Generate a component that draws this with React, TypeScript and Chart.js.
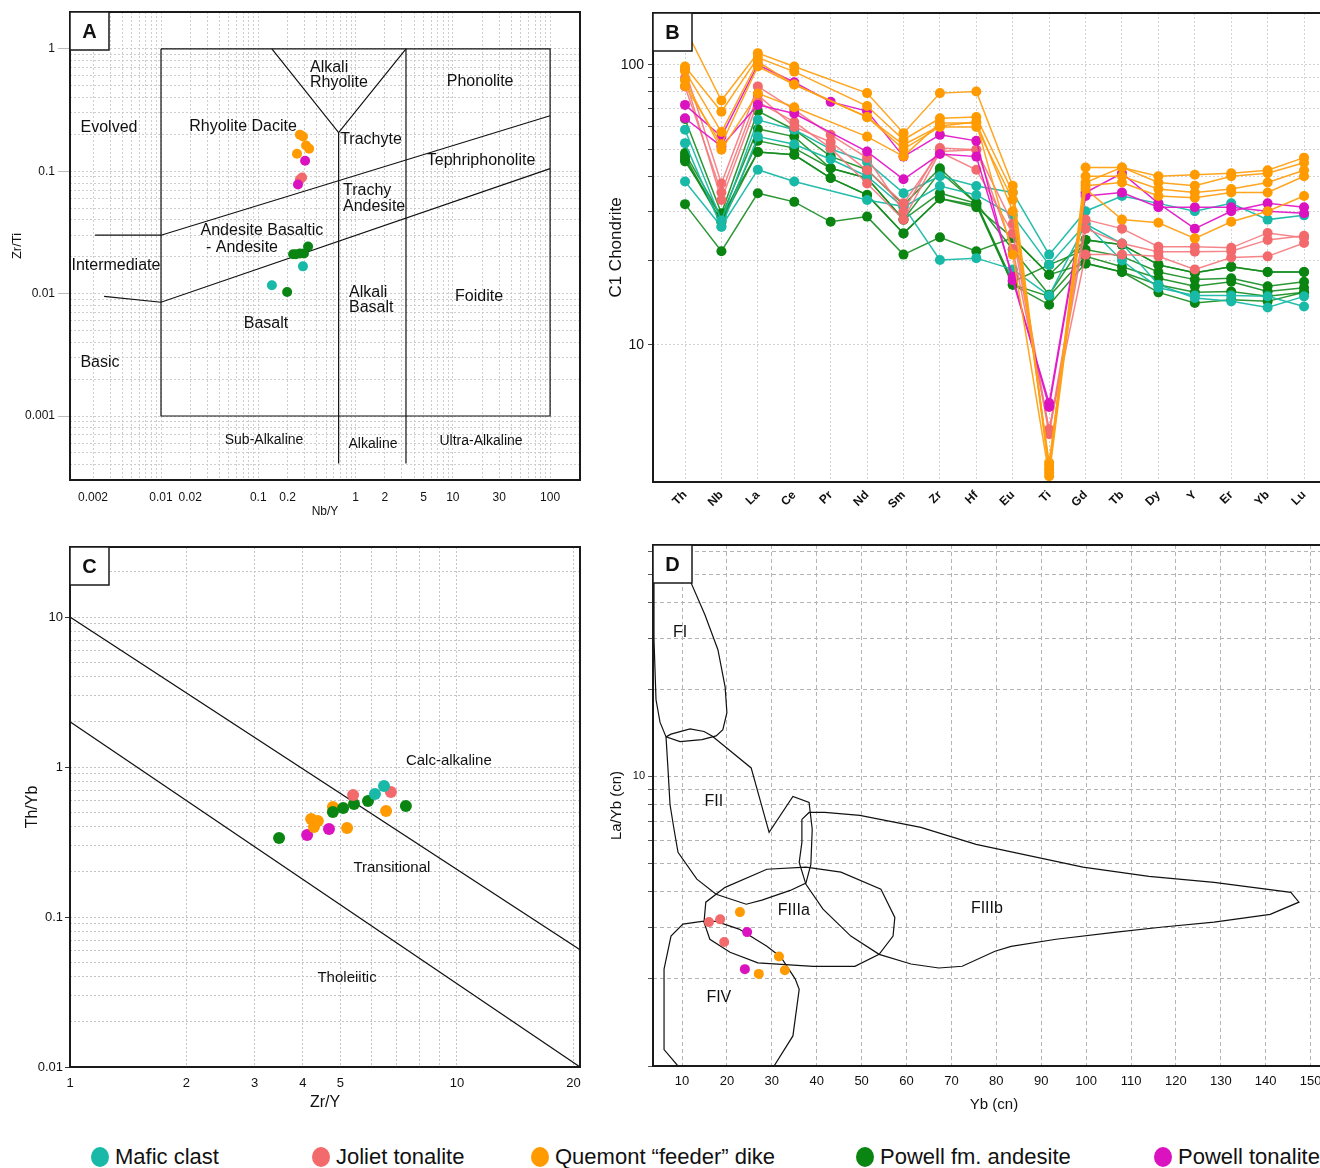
import { useEffect, useRef } from 'react';
import { Chart, registerables } from 'chart.js';
Chart.register(...registerables);

const FONT = '"Liberation Sans", Arial, Helvetica, sans-serif';

const COL_MAFIC = '#18B9A7';
const COL_JOLIET = '#F26A6C';
const COL_QUEMONT = '#FF9A00';
const COL_POWELL_AND = '#0B8512';
const COL_POWELL_TON = '#DB12C0';

// ---------------- Panel A : Zr/Ti vs Nb/Y ----------------
const A_MAFIC = [{ x: 0.288, y: 0.0167 }, { x: 0.138, y: 0.0117 }];
const A_JOLIET = [{ x: 0.282, y: 0.089 }, { x: 0.268, y: 0.0856 }];
const A_QUEMONT = [{ x: 0.288, y: 0.192 }, { x: 0.31, y: 0.162 }, { x: 0.25, y: 0.139 }, { x: 0.333, y: 0.153 }, { x: 0.268, y: 0.199 }];
const A_POWELL_AND = [{ x: 0.325, y: 0.0243 }, { x: 0.268, y: 0.0213 }, { x: 0.228, y: 0.021 }, { x: 0.295, y: 0.0213 }, { x: 0.244, y: 0.021 }, { x: 0.198, y: 0.0103 }];
const A_POWELL_TON = [{ x: 0.303, y: 0.122 }, { x: 0.256, y: 0.078 }];

const A_FIELD_RECT = [{ x: 0.01, y: 1 }, { x: 100, y: 1 }, { x: 100, y: 0.001 }, { x: 0.01, y: 0.001 }, { x: 0.01, y: 1 }];
const A_ALKALI_RHYOLITE_V = [{ x: 0.138, y: 1 }, { x: 0.67, y: 0.207 }, { x: 3.3, y: 1 }];
const A_SUBALK_DIVIDE = [{ x: 0.67, y: 0.207 }, { x: 0.67, y: 0.00041 }];
const A_ALK_DIVIDE = [{ x: 3.3, y: 1 }, { x: 3.3, y: 0.00041 }];
const A_EVOLVED_LINE = [{ x: 0.0021, y: 0.03 }, { x: 0.01, y: 0.03 }, { x: 100, y: 0.284 }];
const A_BASIC_LINE = [{ x: 0.0026, y: 0.0095 }, { x: 0.01, y: 0.0085 }, { x: 100, y: 0.105 }];

const A_LABELS = [
  { t: 'Evolved', x: 0.00292, y: 0.227 },
  { t: 'Rhyolite Dacite', x: 0.0697, y: 0.231 },
  { t: 'Alkali', x: 0.34, y: 0.7, a: 'left' },
  { t: 'Rhyolite', x: 0.34, y: 0.528, a: 'left' },
  { t: 'Phonolite', x: 19.1, y: 0.538 },
  { t: 'Trachyte', x: 1.44, y: 0.181 },
  { t: 'Tephriphonolite', x: 19.5, y: 0.122 },
  { t: 'Trachy', x: 0.743, y: 0.0696, a: 'left' },
  { t: 'Andesite', x: 0.743, y: 0.0515, a: 'left' },
  { t: 'Andesite Basaltic', x: 0.109, y: 0.0329 },
  { t: '- Andesite', x: 0.068, y: 0.0239 },
  { t: 'Intermediate', x: 0.00344, y: 0.017 },
  { t: 'Basalt', x: 0.12, y: 0.00574 },
  { t: 'Alkali', x: 0.857, y: 0.01026, a: 'left' },
  { t: 'Basalt', x: 0.857, y: 0.00775, a: 'left' },
  { t: 'Foidite', x: 18.6, y: 0.00953 },
  { t: 'Basic', x: 0.00236, y: 0.00271 },
];
const A_SMALL_LABELS = [
  { t: 'Sub-Alkaline', x: 0.1146, y: 0.000638 },
  { t: 'Alkaline', x: 1.51, y: 0.000593 },
  { t: 'Ultra-Alkaline', x: 19.5, y: 0.000627 },
];
const A_X_LABELS = [0.002, 0.01, 0.02, 0.1, 0.2, 1, 2, 5, 10, 30, 100];
const A_Y_LABELS = [0.001, 0.01, 0.1, 1];

// ---------------- Panel B : spider diagram ----------------
const ELEMENTS = ['Th', 'Nb', 'La', 'Ce', 'Pr', 'Nd', 'Sm', 'Zr', 'Hf', 'Eu', 'Ti', 'Gd', 'Tb', 'Dy', 'Y', 'Er', 'Yb', 'Lu'];
const B_QUEMONT = [
  [135, 74.5, 110, 98.6, null, 79.2, 57, 79.2, 80.2, 37, 3.6, 43, 43, 40, 40.5, 41, 42, 46.6],
  [98.6, 68, 106, 94.5, null, 71.2, 54, 64.4, 65.1, 35, 3.5, 38, 43, 38, 37, 40, 41, 44.7],
  [95, 57.5, 102.7, 85, null, 65.1, 51.8, 60.5, 62.5, 30, 3.8, 37, 38, 34, 33.5, 35, 35, 40],
  [88, 49.7, 79, 70.5, null, 55.4, 47.1, 62, 62, 21, 3.4, 36, 28, 27.3, 24, 27.5, 30, 34],
  [84, 52, 98.6, 85, null, 65, 50, 60, 60, 33, 3.7, 40, 40, 36, 35, 36, 38, 42],
];
const B_JOLIET = [
  [96, 37.7, 83.7, 69.1, 56.2, 46.5, 30, 50.4, 49.7, 27, 4.9, 28, 26, 22.4, 22.4, 22.2, 25.1, 24.1],
  [89.6, 32.9, 73.7, 62.5, 50.4, 37.7, 28, 48.8, 42.2, 25, 4.8, 26, 23, 21.5, 21.5, 21.6, 23.7, 24.5],
  [83.7, 35, 78, 60, 53, 42, 32, 49, 49.7, 22, 5.0, 21, 21, 20.7, 18.6, 20.5, 20.7, 23.1],
];
const B_POWELL_TON = [
  [71.9, 55.4, 100, 86.6, 73.7, 68.3, 47, 56.2, 53.5, 17, 6.2, 35, 41, 32, 26, 30, 32, 31],
  [64.4, 51.1, 71.9, 67, null, 49, 39, 48, 47, 17.5, 6.0, 34, 35, 31, 31, 31, 30, 29.5],
];
const B_MAFIC = [
  [58.6, 27.8, 63.6, 58.6, 50, 45, 34.8, 40, 36.9, 35, 21, 30, 34, 32, 30, 32, 28, 29],
  [52.5, 26.4, 55.4, 52, 46, 40, 31, 36.9, 34.3, 29, 19.3, 27, 23, 16.4, 14.7, 14.3, 13.6, 14.9],
  [38.3, 26.4, 42.2, 38.3, null, 32.9, 31.2, 20.1, 20.4, 18.6, 15, 27, 20, 16, 15, 15, 14.9, 13.7],
];
const B_POWELL_AND = [
  [64, 29.5, 68.3, 58.6, 47.1, 42.2, 31.6, 42.7, 32.1, 21.9, 15.1, 23.7, 22.8, 19.3, 18.1, 19.0, 18.2, 18.2],
  [48.4, 28.7, 59, 55.4, 42.7, 39.4, 28, 41.5, 32, 16.8, 19.3, 21.9, 20.7, 18.2, 17.1, 17.3, 16.2, 16.8],
  [47.1, 27.5, 53.5, 50.4, 42.7, 39.4, 28, 34.8, 32, 16.4, 14.9, 20.7, 19.0, 17.3, 16.2, 16.8, 15.5, 16.0],
  [45.2, 28.7, 48.8, 47.7, 39.4, 34.3, 25, 33.3, 31.5, 16.4, 13.9, 19.6, 18.2, 16.4, 15.4, 15.5, 14.9, 15.4],
  [46, 27.5, 48.8, 47.7, 39.4, 34.3, 25, 33.3, 31, 24.1, 17.8, 19.5, 18.2, 15.4, 14.1, 14.5, 14.3, 15.4],
  [31.8, 21.6, 34.8, 32.4, 27.5, 28.7, 21, 24.2, 21.6, 24.1, 17.8, 23.7, 22.8, 19.3, 18.1, 19.0, 18.2, 18.2],
];
const B_Y_GRID = [10, 20, 30, 40, 50, 60, 70, 80, 90, 100];
const B_Y_LABELS = [10, 100];

// ---------------- Panel C : Th/Yb vs Zr/Y ----------------
const C_JOLIET = [{ x: 5.39, y: 0.651 }, { x: 6.75, y: 0.681 }];
const C_MAFIC = [{ x: 6.14, y: 0.661 }, { x: 6.48, y: 0.747 }];
const C_POWELL_AND = [{ x: 4.78, y: 0.501 }, { x: 5.08, y: 0.533 }, { x: 5.42, y: 0.567 }, { x: 5.89, y: 0.594 }, { x: 7.38, y: 0.549 }, { x: 3.47, y: 0.336 }];
const C_QUEMONT = [{ x: 4.78, y: 0.541 }, { x: 4.2, y: 0.45 }, { x: 4.37, y: 0.436 }, { x: 4.27, y: 0.398 }, { x: 5.2, y: 0.392 }, { x: 6.56, y: 0.509 }];
const C_POWELL_TON = [{ x: 4.1, y: 0.352 }, { x: 4.67, y: 0.386 }];
const C_UPPER = [{ x: 1, y: 10 }, { x: 20.8, y: 0.0605 }];
const C_LOWER = [{ x: 1, y: 2 }, { x: 20.8, y: 0.01 }];
const C_LABELS = [
  { t: 'Calc-alkaline', x: 9.53, y: 1.096 },
  { t: 'Transitional', x: 6.79, y: 0.212 },
  { t: 'Tholeiitic', x: 5.2, y: 0.0392 },
];
const C_X_GRID = [1, 2, 3, 4, 5, 6, 7, 8, 9, 10, 20];
const C_X_LABELS = [1, 2, 3, 4, 5, 10, 20];
const C_Y_LABELS = [0.01, 0.1, 1, 10];

// ---------------- Panel D : La/Yb vs Yb ----------------
const D_JOLIET = [{ x: 16.0, y: 3.14 }, { x: 18.5, y: 3.21 }, { x: 19.4, y: 2.68 }];
const D_QUEMONT = [{ x: 22.9, y: 3.4 }, { x: 31.6, y: 2.39 }, { x: 32.9, y: 2.14 }, { x: 27.1, y: 2.08 }];
const D_POWELL_TON = [{ x: 24.5, y: 2.9 }, { x: 24.0, y: 2.16 }];
const D_FI = [[3.76, 53.8], [3.76, 29.7], [4.21, 18.4], [5.1, 15.4], [6.44, 13.7], [9.55, 13.2], [14.45, 13.4], [17.6, 13.8], [19.1, 14.5], [20.0, 16.6], [19.6, 20.4], [18.0, 27.4], [15.1, 36.2], [12.0, 46.7], [11.3, 53.8]];
const D_FII = [[6.44, 13.7], [6.88, 10.6], [7.33, 8.0], [8.22, 6.57], [9.11, 5.47], [13.3, 4.42], [17.6, 3.92], [24.3, 3.62], [27.8, 3.74], [34.1, 4.04], [37.6, 4.28], [38.7, 4.97], [39.0, 6.57], [38.3, 8.13], [34.7, 8.53], [29.4, 6.41], [25.4, 10.7], [16.7, 13.8], [14.9, 14.3], [11.8, 14.6], [7.55, 14.0], [6.44, 13.7]];
const D_FIIIA = [[19.6, 4.14], [28.9, 4.78], [37.6, 4.86], [45.4, 4.67], [54.3, 4.08], [57.4, 3.26], [57.0, 2.81], [53.9, 2.43], [48.5, 2.21], [39.2, 2.21], [26.9, 2.27], [20.7, 2.47], [16.2, 2.74], [14.9, 3.14], [15.3, 3.68], [19.6, 4.14]];
const D_FIIIB = [[36.7, 7.11], [38.3, 7.51], [41.8, 7.51], [49.6, 7.34], [63.2, 6.67], [75.5, 5.83], [99.3, 4.86], [114.0, 4.52], [128.5, 4.31], [145.6, 3.98], [147.4, 3.68], [141.0, 3.34], [128.5, 3.14], [117.1, 3.02], [106.7, 2.9], [93.3, 2.74], [83.3, 2.59], [79.7, 2.49], [72.4, 2.21], [67.2, 2.18], [61.0, 2.25], [53.9, 2.43], [47.6, 2.81], [41.4, 3.48], [37.6, 4.24], [36.1, 5.05], [36.7, 5.92], [36.7, 7.11]];
const D_FIV = [[14.45, 3.16], [10.2, 3.09], [7.55, 2.81], [6.0, 2.16], [6.0, 1.14], [9.1, 1.0], [30.5, 1.0], [34.7, 1.27], [36.1, 1.84], [35.2, 2.0], [32.0, 2.38], [28.9, 2.59], [22.7, 2.97], [17.6, 3.16], [14.45, 3.16]];
const D_LABELS = [
  { t: 'FI', x: 9.55, y: 31.4 },
  { t: 'FII', x: 17.1, y: 8.2 },
  { t: 'FIIIa', x: 34.9, y: 3.45 },
  { t: 'FIIIb', x: 77.9, y: 3.51 },
  { t: 'FIV', x: 18.2, y: 1.72 },
];
const D_X_TICKS = [10, 20, 30, 40, 50, 60, 70, 80, 90, 100, 110, 120, 130, 140, 150];
const D_Y_LABELS = [10];

const LEGEND_ITEMS = [
  { label: 'Mafic clast', color: COL_MAFIC },
  { label: 'Joliet tonalite', color: COL_JOLIET },
  { label: 'Quemont \u201cfeeder\u201d dike', color: COL_QUEMONT },
  { label: 'Powell fm. andesite', color: COL_POWELL_AND },
  { label: 'Powell tonalite', color: COL_POWELL_TON },
];

// ---------------- helpers ----------------
function logGrid(lo: number, hi: number): number[] {
  const out: number[] = [];
  for (let e = Math.floor(Math.log10(lo)) - 1; e <= Math.ceil(Math.log10(hi)); e++) {
    for (let m = 1; m <= 9; m++) {
      const v = +(m * Math.pow(10, e)).toPrecision(6);
      if (v >= lo * 0.9999 && v <= hi * 1.0001) out.push(v);
    }
  }
  return out;
}
const isIn = (v: number, list: number[]) => list.some((l) => Math.abs(l - v) / Math.abs(l) < 1e-6);
const fmt = (v: number) => String(+v.toPrecision(6));
const pairs = (arr: number[][]) => arr.map((p) => ({ x: p[0], y: p[1] }));

function pts(data: any[], color: string, r: number) {
  return { data, backgroundColor: color, borderColor: color, borderWidth: 0, pointRadius: r, pointHoverRadius: r, showLine: false, order: 1 };
}
function bound(data: any[]) {
  return { data, showLine: true, borderColor: '#111', borderWidth: 1.2, pointRadius: 0, pointHoverRadius: 0, fill: false, tension: 0, order: 10 };
}

function textPlugin(id: string, labels: any[], font: string) {
  return {
    id,
    beforeDatasetsDraw(chart: any) {
      const { ctx, scales } = chart;
      ctx.save();
      ctx.font = font;
      ctx.fillStyle = '#111';
      ctx.textBaseline = 'middle';
      for (const l of labels) {
        ctx.textAlign = l.a || 'center';
        ctx.fillText(l.t, scales.x.getPixelForValue(l.x), scales.y.getPixelForValue(l.y));
      }
      ctx.restore();
    },
  };
}
function framePlugin(letter: string) {
  return {
    id: 'frame' + letter,
    afterDraw(chart: any) {
      const { ctx, chartArea } = chart;
      const { left, top, right, bottom } = chartArea;
      ctx.save();
      ctx.strokeStyle = '#1a1a1a';
      ctx.lineWidth = 2;
      ctx.strokeRect(left, top, right - left, bottom - top);
      ctx.fillStyle = '#fff';
      ctx.fillRect(left, top, 39, 38);
      ctx.lineWidth = 1.5;
      ctx.strokeRect(left, top, 39, 38);
      ctx.fillStyle = '#111';
      ctx.font = `bold 20px ${FONT}`;
      ctx.textAlign = 'center';
      ctx.textBaseline = 'middle';
      ctx.fillText(letter, left + 19.5, top + 20);
      ctx.restore();
    },
  };
}

function axis(o: any) {
  return {
    type: o.type,
    min: o.min,
    max: o.max,
    bounds: 'data',
    afterBuildTicks: (s: any) => { s.ticks = o.grid.map((v: number) => ({ value: v })); },
    afterFit: (s: any) => { if (o.width !== undefined) s.width = o.width; if (o.height !== undefined) s.height = o.height; },
    grid: {
      color: o.gridColor,
      lineWidth: 1,
      drawTicks: true,
      tickLength: o.tickLength,
      tickColor: o.tickColor,
      tickWidth: 1,
    },
    border: { display: false, dash: o.dash },
    ticks: {
      autoSkip: false,
      maxRotation: o.rot || 0,
      minRotation: o.rot || 0,
      padding: o.pad,
      color: '#111',
      font: o.font,
      callback: o.label,
    },
    title: o.title ? { display: true, text: o.title, color: '#111', font: o.titleFont, padding: o.titlePad } : { display: false },
  };
}

function baseOptions(padding: any, scales: any) {
  return {
    responsive: false,
    animation: false,
    devicePixelRatio: 1,
    events: [],
    layout: { padding },
    plugins: { legend: { display: false }, tooltip: { enabled: false } },
    scales,
  };
}

// ---------------- configs ----------------
function configA(): any {
  return {
    type: 'scatter',
    data: {
      datasets: [
        pts(A_QUEMONT, COL_QUEMONT, 5), pts(A_POWELL_TON, COL_POWELL_TON, 5), pts(A_JOLIET, COL_JOLIET, 5),
        pts(A_POWELL_AND, COL_POWELL_AND, 5), pts(A_MAFIC, COL_MAFIC, 5),
        bound(A_FIELD_RECT), bound(A_ALKALI_RHYOLITE_V), bound(A_SUBALK_DIVIDE), bound(A_ALK_DIVIDE), bound(A_EVOLVED_LINE), bound(A_BASIC_LINE),
      ],
    },
    options: baseOptions({ top: 12, right: 10, left: 0, bottom: 0 }, {
      x: axis({
        type: 'logarithmic', min: 0.00116, max: 203, grid: logGrid(0.00116, 203), height: 50,
        gridColor: '#cdcdcd', dash: [2, 2], tickLength: 6, tickColor: 'rgba(0,0,0,0)', pad: 4,
        font: { family: FONT, size: 12 }, label: (v: number) => (isIn(v, A_X_LABELS) ? fmt(v) : ''),
        title: 'Nb/Y', titleFont: { family: FONT, size: 12 }, titlePad: { top: 0, bottom: 11 },
      }),
      y: axis({
        type: 'logarithmic', min: 0.0003, max: 2.0, grid: logGrid(0.0003, 2.0), width: 70,
        gridColor: '#cdcdcd', dash: [2, 2], tickLength: 12, tickColor: (c: any) => (c.tick && isIn(c.tick.value, A_Y_LABELS) ? '#bbb' : 'rgba(0,0,0,0)'), pad: 3,
        font: { family: FONT, size: 12 }, label: (v: number) => (isIn(v, A_Y_LABELS) ? fmt(v) : ''),
        title: 'Zr/Ti', titleFont: { family: FONT, size: 13 }, titlePad: { top: 10, bottom: 0 },
      }),
    }),
    plugins: [textPlugin('txtA', A_LABELS, `16px ${FONT}`), textPlugin('txtA2', A_SMALL_LABELS, `14px ${FONT}`), framePlugin('A')],
  };
}

function spider(series: any[], color: string, lineColor: string) {
  return {
    data: series.map((v: any, i: number) => ({ x: i, y: v })),
    showLine: true,
    spanGaps: true,
    borderColor: lineColor,
    borderWidth: 1.5,
    backgroundColor: color,
    pointBackgroundColor: color,
    pointBorderWidth: 0,
    pointRadius: 5,
    pointHoverRadius: 5,
    tension: 0,
  };
}

function configB(): any {
  const ds = [
    ...B_POWELL_AND.map((s) => spider(s, COL_POWELL_AND, 'rgba(20,140,30,0.9)')),
    ...B_MAFIC.map((s) => spider(s, COL_MAFIC, 'rgba(24,185,167,0.95)')),
    ...B_JOLIET.map((s) => spider(s, COL_JOLIET, 'rgba(245,120,125,0.9)')),
    ...B_POWELL_TON.map((s) => spider(s, COL_POWELL_TON, 'rgba(225,25,200,0.95)')),
    ...B_QUEMONT.map((s) => spider(s, COL_QUEMONT, 'rgba(255,160,20,0.95)')),
  ].reverse();
  return {
    type: 'scatter',
    data: { datasets: ds },
    options: baseOptions({ top: 13, right: 5, left: 0, bottom: 0 }, {
      x: axis({
        type: 'linear', min: -0.879, max: 17.85, grid: ELEMENTS.map((_, i) => i), height: 48,
        gridColor: '#d2d2d2', dash: [2, 2], tickLength: 4, tickColor: 'rgba(0,0,0,0)', pad: 2, rot: 45,
        font: { family: FONT, size: 12, weight: 'bold' }, label: (v: number) => ELEMENTS[Math.round(v)] ?? '',
      }),
      y: axis({
        type: 'logarithmic', min: 3.24, max: 153, grid: B_Y_GRID, width: 63,
        gridColor: '#d2d2d2', dash: [2, 2], tickLength: 5, tickColor: '#444', pad: 4,
        font: { family: FONT, size: 14 }, label: (v: number) => (isIn(v, B_Y_LABELS) ? fmt(v) : ''),
        title: 'C1 Chondrite', titleFont: { family: FONT, size: 17 }, titlePad: { top: 16, bottom: 0 },
      }),
    }),
    plugins: [framePlugin('B')],
  };
}

function configC(): any {
  return {
    type: 'scatter',
    data: {
      datasets: [
        pts(C_MAFIC, COL_MAFIC, 6), pts(C_JOLIET, COL_JOLIET, 6), pts(C_POWELL_AND, COL_POWELL_AND, 6),
        pts(C_QUEMONT, COL_QUEMONT, 6), pts(C_POWELL_TON, COL_POWELL_TON, 6),
        bound(C_UPPER), bound(C_LOWER),
      ],
    },
    options: baseOptions({ top: 12, right: 10, left: 0, bottom: 0 }, {
      x: axis({
        type: 'logarithmic', min: 1, max: 20.8, grid: C_X_GRID, height: 53,
        gridColor: '#c4c4c4', dash: [2, 2], tickLength: 5, tickColor: 'rgba(0,0,0,0)', pad: 4,
        font: { family: FONT, size: 13 }, label: (v: number) => (isIn(v, C_X_LABELS) ? fmt(v) : ''),
        title: 'Zr/Y', titleFont: { family: FONT, size: 16 }, titlePad: { top: 0, bottom: 8 },
      }),
      y: axis({
        type: 'logarithmic', min: 0.01, max: 29.3, grid: logGrid(0.01, 29.3), width: 70,
        gridColor: '#c4c4c4', dash: [2, 2], tickLength: 5, tickColor: (c: any) => (c.tick && isIn(c.tick.value, C_Y_LABELS) ? '#333' : 'rgba(0,0,0,0)'), pad: 2,
        font: { family: FONT, size: 13 }, label: (v: number) => (isIn(v, C_Y_LABELS) ? fmt(v) : ''),
        title: 'Th/Yb', titleFont: { family: FONT, size: 16 }, titlePad: { top: 23, bottom: 0 },
      }),
    }),
    plugins: [textPlugin('txtC', C_LABELS, `15px ${FONT}`), framePlugin('C')],
  };
}

function configD(): any {
  return {
    type: 'scatter',
    data: {
      datasets: [
        pts(D_JOLIET, COL_JOLIET, 5), pts(D_QUEMONT, COL_QUEMONT, 5), pts(D_POWELL_TON, COL_POWELL_TON, 5),
        bound(pairs(D_FI)), bound(pairs(D_FII)), bound(pairs(D_FIIIA)), bound(pairs(D_FIIIB)), bound(pairs(D_FIV)),
      ],
    },
    options: baseOptions({ top: 10, right: 5, left: 0, bottom: 0 }, {
      x: axis({
        type: 'linear', min: 3.54, max: 155.43, grid: D_X_TICKS, height: 54,
        gridColor: '#b4b4b4', dash: [4, 3], tickLength: 4, tickColor: 'rgba(0,0,0,0)', pad: 4,
        font: { family: FONT, size: 13 }, label: (v: number) => fmt(v),
        title: 'Yb (cn)', titleFont: { family: FONT, size: 15 }, titlePad: { top: 0, bottom: 6 },
      }),
      y: axis({
        type: 'logarithmic', min: 1, max: 63, grid: logGrid(1, 63), width: 63,
        gridColor: '#b4b4b4', dash: [4, 3], tickLength: 5, tickColor: '#555', pad: 3,
        font: { family: FONT, size: 11 }, label: (v: number) => (isIn(v, D_Y_LABELS) ? fmt(v) : ''),
        title: 'La/Yb (cn)', titleFont: { family: FONT, size: 15 }, titlePad: { top: 18, bottom: 0 },
      }),
    }),
    plugins: [textPlugin('txtD', D_LABELS, `16px ${FONT}`), framePlugin('D')],
  };
}

function Panel({ left, top, width, height, make }: any) {
  const ref = useRef<HTMLCanvasElement>(null);
  useEffect(() => {
    const chart = new Chart(ref.current as HTMLCanvasElement, make());
    return () => chart.destroy();
  }, []);
  return <canvas ref={ref} width={width} height={height} style={{ position: 'absolute', left, top, width, height }} />;
}

const LEGEND_DOT_X = [100, 321, 540, 865, 1163];

export default function App() {
  return (
    <div style={{ position: 'absolute', left: 0, top: 0, width: 1320, height: 1168, overflow: 'hidden', background: '#fff' }}>
      <Panel left={0} top={0} width={590} height={530} make={configA} />
      <Panel left={590} top={0} width={750} height={530} make={configB} />
      <Panel left={0} top={535} width={590} height={585} make={configC} />
      <Panel left={590} top={535} width={750} height={585} make={configD} />
      {LEGEND_ITEMS.map((it, i) => (
        <div key={it.label} style={{ position: 'absolute', left: LEGEND_DOT_X[i] - 9, top: 1146, height: 22, display: 'flex', alignItems: 'center', whiteSpace: 'nowrap' }}>
          <span style={{ display: 'inline-block', width: 18, height: 20, borderRadius: '50%', background: it.color, marginRight: 6 }} />
          <span style={{ font: `22px ${FONT}`, color: '#111' }}>{it.label}</span>
        </div>
      ))}
    </div>
  );
}
